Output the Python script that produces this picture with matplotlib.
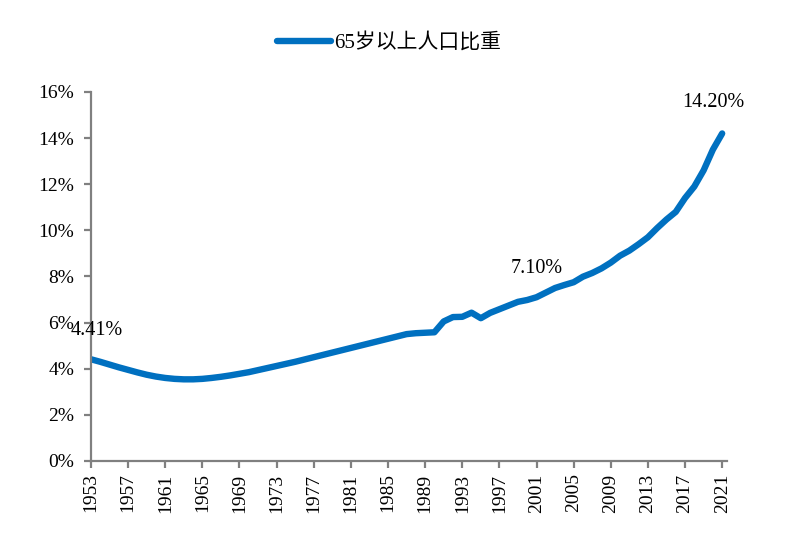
"""
Share of population aged 65+ in China, 1953-2021
"""

# imports
import matplotlib
matplotlib.use("Agg")
import matplotlib.pyplot as plt
from matplotlib.ticker import FuncFormatter, MultipleLocator


# data (percent)
years = list(range(1953, 2022))
share_65 = [
    4.41, 4.30, 4.18, 4.06, 3.95, 3.84, 3.74, 3.66, 3.60, 3.56,   # 1953-1962
    3.54, 3.54, 3.56, 3.60, 3.65, 3.71, 3.78, 3.85, 3.94, 4.03,   # 1963-1972
    4.12, 4.21, 4.30, 4.40, 4.50, 4.60, 4.70, 4.80, 4.90, 5.00,   # 1973-1982
    5.10, 5.20, 5.30, 5.40, 5.50, 5.54, 5.56, 5.58, 6.05, 6.24,   # 1983-1992
    6.25, 6.43, 6.19, 6.42, 6.58, 6.74, 6.90, 6.98, 7.10, 7.30,   # 1993-2002
    7.50, 7.63, 7.75, 7.99, 8.15, 8.35, 8.60, 8.90, 9.12, 9.40,   # 2003-2012
    9.70, 10.10, 10.47, 10.80, 11.40, 11.90, 12.60, 13.50, 14.20, # 2013-2021
]
tick_years = list(range(1953, 2022, 4))
labelled = {1953: "4.41%", 2001: "7.10%", 2021: "14.20%"}
series_name = "65岁以上人口比重"

BLUE = "#0070C0"
GREY = "#808080"
FONTS = ["Liberation Serif", "Noto Sans CJK SC", "DejaVu Sans"]


def main():
    plt.rcParams["font.family"] = FONTS

    fig = plt.figure(figsize=(8.1, 5.44), dpi=100)
    ax = fig.add_axes([0.1123, 0.1526, 0.785, 0.6784])

    line, = ax.plot(years, share_65, color=BLUE, lw=4.6,
                    solid_capstyle="round", solid_joinstyle="round",
                    label=series_name)

    # data labels (offsets in points)
    offsets = {1953: (4, 21), 2001: (0, 21), 2021: (-6, 22)}
    for yr, txt in labelled.items():
        val = share_65[years.index(yr)]
        ax.annotate(txt, (yr, val), xytext=offsets[yr], textcoords="offset points",
                    ha="center", va="center", fontsize=14.5, color="black")

    ax.set_xlim(1953, 2021.5)
    ax.set_ylim(0, 16)
    ax.set_xticks(tick_years)
    ax.set_xticklabels([str(y) for y in tick_years], rotation=90)
    ax.yaxis.set_major_locator(MultipleLocator(2))
    ax.yaxis.set_major_formatter(FuncFormatter(lambda v, p: f"{v:.0f}%"))

    for side in ("top", "right"):
        ax.spines[side].set_visible(False)
    for side in ("left", "bottom"):
        ax.spines[side].set_color(GREY)
        ax.spines[side].set_linewidth(1.6)
    ax.tick_params(axis="both", direction="out", length=5, width=1.6,
                   color=GREY, labelsize=14, labelcolor="black")
    ax.tick_params(axis="y", pad=7)
    ax.tick_params(axis="x", pad=4)

    fig.legend(handles=[line], loc="center", bbox_to_anchor=(0.48, 0.921),
               frameon=False, fontsize=15, handlelength=2.6,
               handletextpad=0.15)

    fig.savefig("out.png", dpi=100)
    return 0


if __name__ == "__main__":
    main()
